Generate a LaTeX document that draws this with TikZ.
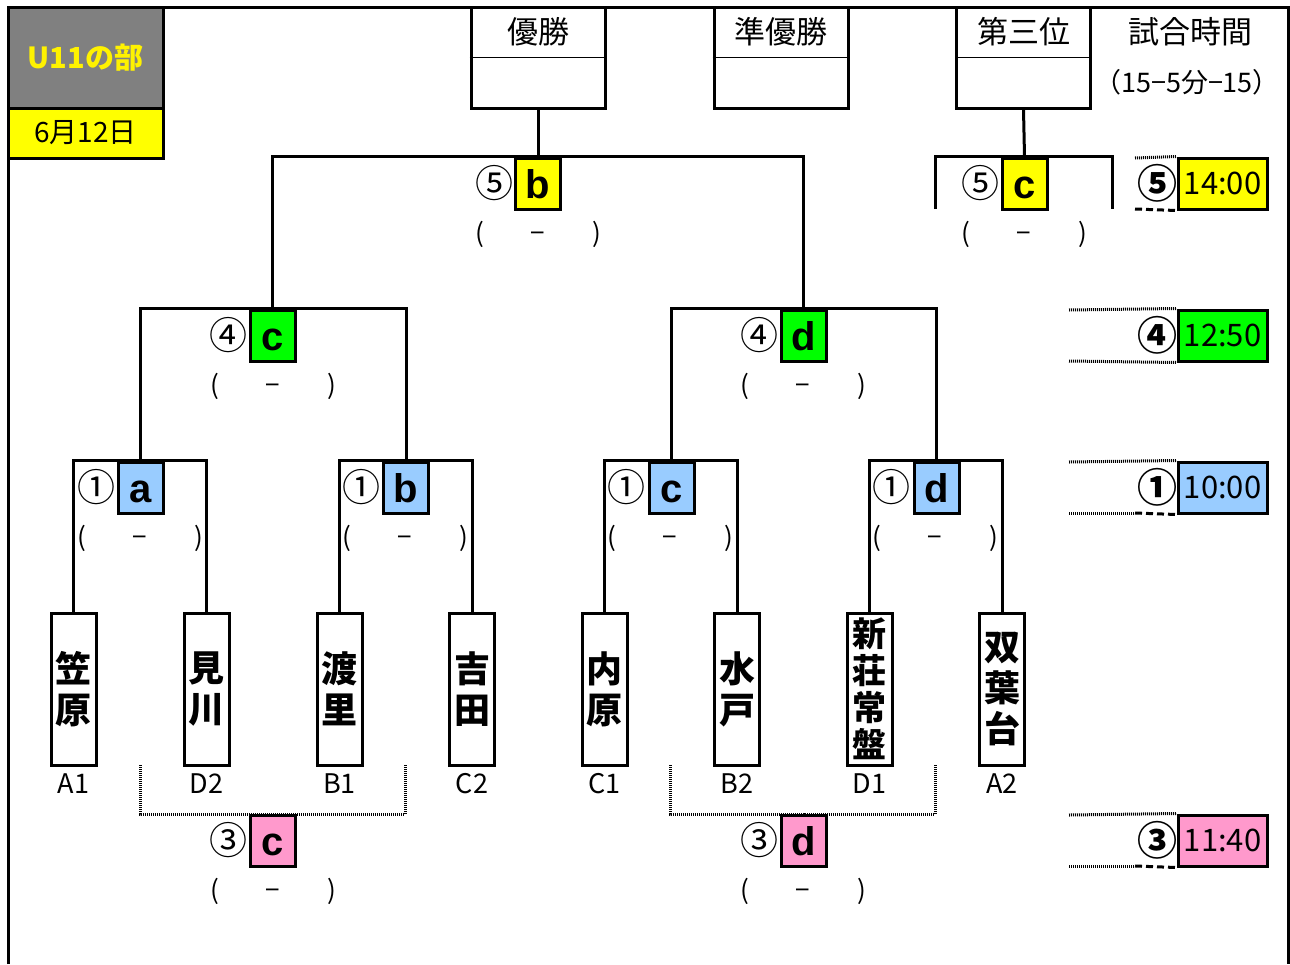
\documentclass[tikz,border=0pt]{standalone}
\usepackage{fontspec}
\setmainfont{Noto Sans CJK JP}
\newfontfamily\arialf{Liberation Sans}
\definecolor{cyel}{RGB}{255,255,0}
\definecolor{cgrn}{RGB}{0,255,0}
\definecolor{cblu}{RGB}{153,204,255}
\definecolor{cpnk}{RGB}{255,153,204}
\definecolor{cgry}{RGB}{128,128,128}
\newcommand{\scoretxt}{\makebox[126pt]{(\hfill−\hfill)}}
\begin{document}
\begin{tikzpicture}[x=1pt,y=-1pt,
  ln/.style={line width=3pt},
  dotln/.style={line width=3pt, dash pattern=on 1pt off 1pt},
  dshln/.style={line width=3pt, dash pattern=on 7pt off 4pt},
  mbox/.style={draw, line width=3pt, minimum width=45pt, minimum height=51pt, inner sep=0pt,
    font=\arialf\bfseries\fontsize{40}{40}\selectfont, text height=29pt, text depth=0pt},
  tbox/.style={draw, line width=3pt, minimum width=45pt, minimum height=152pt, inner sep=0pt,
    align=center, font=\bfseries\fontsize{36}{41}\selectfont},
  topbox/.style={draw, line width=3pt, minimum width=134pt, minimum height=101pt, inner sep=0pt},
  toptxt/.style={font=\fontsize{31}{31}\selectfont, inner sep=0pt},
  circ/.style={font=\fontsize{38}{38}\selectfont, inner sep=0pt},
  circb/.style={font=\bfseries\fontsize{40}{40}\selectfont, inner sep=0pt},
  score/.style={font=\fontsize{26}{26}\selectfont, inner sep=0pt},
  lab/.style={font=\fontsize{27}{27}\selectfont, inner sep=0pt},
  timebox/.style={draw, line width=3pt, minimum width=89pt, minimum height=51pt, inner sep=0pt,
    font=\fontsize{31}{31}\selectfont}
]
\useasboundingbox (0,0) rectangle (1290,964);
% frame
\draw[ln] (8,964) -- (8,7) -- (1288,7) -- (1288,964);
% header
\node[draw, ln, fill=cgry, minimum width=155pt, minimum height=101pt, inner sep=0pt, text=yellow,
  font=\bfseries\fontsize{29}{29}\selectfont] (div) at (85.5,57.5) {U11の部};
\node[draw, ln, fill=cyel, minimum width=155pt, minimum height=50pt, inner sep=0pt,
  font=\fontsize{28}{28}\selectfont] (date) at (85.5,133) {6月12日};
% top boxes
\node[topbox] (win) at (538,57.5) {};
\node[topbox] (second) at (781,57.5) {};
\node[topbox] (third) at (1023.5,57.5) {};
\foreach \b in {win,second,third} \draw[line width=1.5pt] (\b.west) -- (\b.east);
\node[toptxt] (wint) at (538,32) {優勝};
\node[toptxt] (secondt) at (781,32) {準優勝};
\node[toptxt] (thirdt) at (1023.5,32) {第三位};
\node[toptxt] (timet) at (1190,32) {試合時間};
\node[font=\fontsize{27}{27}\selectfont, inner sep=0pt] (rule) at (1187,82) {（15−5分−15）};
% final
\node[mbox, fill=cyel] (f) at (538,183.5) {b};
\node[circ] (fn) at (494,183) {⑤};
\node[score] (fs) at (538,234) {\scoretxt};
\draw[ln] (win.south) -- (f.north);
% semis
\node[mbox, fill=cgrn] (sl) at (272.5,335.5) {c};
\node[mbox, fill=cgrn] (sr) at (803.5,335.5) {d};
\node[circ] (sln) at (228,335) {④};
\node[circ] (srn) at (759,335) {④};
\node[score] (sls) at (273,386) {\scoretxt};
\node[score] (srs) at (803,386) {\scoretxt};
\draw[ln] (sl.north) |- (f.north) -| (sr.north);
% third place match
\node[mbox, fill=cyel] (tp) at (1024.5,183.5) {c};
\node[circ] (tpn) at (980,183) {⑤};
\node[score] (tps) at (1024,234) {\scoretxt};
\coordinate (tpl) at (935,209);
\coordinate (tpr) at (1112,209);
\draw[ln] (third.south) -- (tp.north);
\draw[ln] (tpl) |- (tp.north) -| (tpr);
% round 1
\node[mbox, fill=cblu] (ra) at (140.5,487.5) {a};
\node[mbox, fill=cblu] (rb) at (406,487.5) {b};
\node[mbox, fill=cblu] (rc) at (671.5,487.5) {c};
\node[mbox, fill=cblu] (rd) at (936.5,487.5) {d};
\foreach \m/\x in {ra/96,rb/361,rc/626,rd/891} \node[circ] (\m n) at (\x,487) {①};
\foreach \m/\x in {ra/140,rb/405,rc/670,rd/935} \node[score] (\m s) at (\x,538) {\scoretxt};
\draw[ln] (ra.north) |- (sl.north) -| (rb.north);
\draw[ln] (rc.north) |- (sr.north) -| (rd.north);
% teams
\node[tbox] (t1) at (73.5,689) {笠\\原};
\node[tbox] (t2) at (206.5,689) {見\\川};
\node[tbox] (t3) at (339.5,689) {渡\\里};
\node[tbox] (t4) at (472,689) {吉\\田};
\node[tbox] (t5) at (604.5,689) {内\\原};
\node[tbox] (t6) at (737,689) {水\\戸};
\node[tbox, font=\bfseries\fontsize{34}{37}\selectfont] (t7) at (869.5,689) {新\\荘\\常\\盤};
\node[tbox] (t8) at (1002,689) {双\\葉\\台};
\foreach \t/\l in {t1/A1,t2/D2,t3/B1,t4/C2,t5/C1,t6/B2,t7/D1,t8/A2}
  \node[lab] (\t l) at (\t.south |- 0,784) {\l};
\draw[ln] (t1.north) |- (ra.north) -| (t2.north);
\draw[ln] (t3.north) |- (rb.north) -| (t4.north);
\draw[ln] (t5.north) |- (rc.north) -| (t6.north);
\draw[ln] (t7.north) |- (rd.north) -| (t8.north);
% consolation
\node[mbox, fill=cpnk] (lc) at (272.5,841) {c};
\node[mbox, fill=cpnk] (ld) at (803.5,841) {d};
\node[circ] (lcn) at (228,840) {③};
\node[circ] (ldn) at (759,840) {③};
\node[score] (lcs) at (273,891) {\scoretxt};
\node[score] (lds) at (803,891) {\scoretxt};
\coordinate (lcl) at (140,765);
\coordinate (lcr) at (405,765);
\coordinate (ldl) at (670,765);
\coordinate (ldr) at (935,765);
\draw[dotln] (lcl) |- (lc.north) -| (lcr);
\draw[dotln] (ldl) |- (ld.north) -| (ldr);
% time column
\node[timebox, fill=cyel] (tm5) at (1222.5,183.5) {14:00};
\node[timebox, fill=cgrn] (tm4) at (1222.5,335.5) {12:50};
\node[timebox, fill=cblu] (tm1) at (1222.5,487.5) {10:00};
\node[timebox, fill=cpnk] (tm3) at (1222.5,840.5) {11:40};
\node[circb] (tm5n) at (1157,183) {⑤};
\node[circb] (tm4n) at (1157,335) {④};
\node[circb] (tm1n) at (1157,487) {①};
\node[circb] (tm3n) at (1157,840) {③};
\coordinate (a5t) at (1135,158);
\coordinate (a5b) at (1135,209);
\draw[dotln] (a5t) -- (tm5.north west);
\draw[dshln] (a5b) -- (tm5.south west);
\coordinate (a4t) at (1069,310);
\coordinate (a4b) at (1069,361);
\draw[dotln] (a4t) -- (tm4.north west);
\draw[dotln] (a4b) -- (tm4.south west);
\coordinate (a1t) at (1069,462);
\coordinate (a1b) at (1069,513);
\coordinate (a1m) at (1135,513);
\draw[dotln] (a1t) -- (tm1.north west);
\draw[dotln] (a1b) -- (a1m);
\draw[dshln] (a1m) -- (tm1.south west);
\coordinate (a3t) at (1069,815);
\coordinate (a3b) at (1069,866);
\coordinate (a3m) at (1135,866);
\draw[dotln] (a3t) -- (tm3.north west);
\draw[dotln] (a3b) -- (a3m);
\draw[dshln] (a3m) -- (tm3.south west);
\end{tikzpicture}
\end{document}
